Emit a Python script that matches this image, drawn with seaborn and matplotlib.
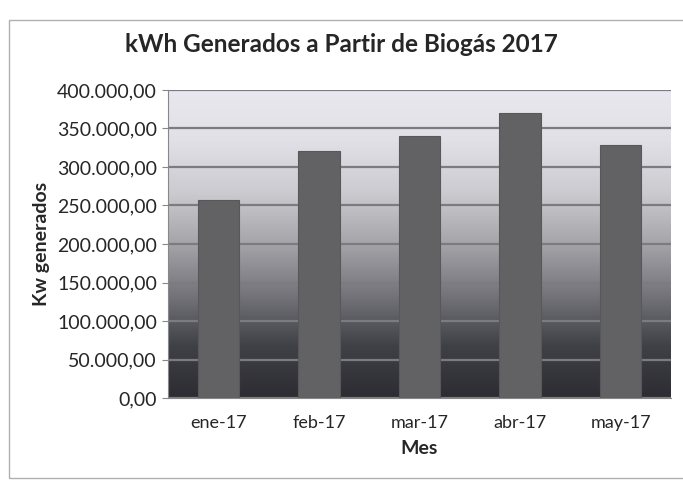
import matplotlib
matplotlib.use('Agg')
import matplotlib.pyplot as plt
import matplotlib.patches as mpatches
from matplotlib.ticker import FuncFormatter
from matplotlib.colors import LinearSegmentedColormap
import seaborn as sns
import numpy as np
import pandas as pd

sns.set_style('white')
plt.rcParams['font.family'] = ['Lato', 'DejaVu Sans']

meses = ['ene-17', 'feb-17', 'mar-17', 'abr-17', 'may-17']
kwh = [257000, 321000, 340000, 370000, 328000]
y_ticks = [0, 50000, 100000, 150000, 200000, 250000, 300000, 350000, 400000]

df = pd.DataFrame({'Mes': meses, 'kWh': kwh})


def formato_es(v, pos=None):
    s = f'{v:,.2f}'
    return s.replace(',', 'X').replace('.', ',').replace('X', '.')


fig = plt.figure(figsize=(6.83, 4.88), dpi=100)
fig.patch.set_facecolor('white')
ax = fig.add_axes([168 / 683, 1 - 398 / 488, 503 / 683, 308 / 488])

# fondo degradado del area de trazado (estilo Excel)
grad = LinearSegmentedColormap.from_list(
    'fondo', ['#2c2c32', '#404047', '#74747a', '#a4a4a9', '#cbcbd0', '#e0e0e6', '#e8e8ee'])
g = np.linspace(0, 1, 256).reshape(-1, 1)
ax.imshow(g, cmap=grad, aspect='auto', extent=[0, 1, 0, 1], origin='lower',
          transform=ax.transAxes, zorder=0)

sns.barplot(data=df, x='Mes', y='kWh', color='#626265', width=0.41,
            saturation=1, edgecolor='#58585b', linewidth=0.8, ax=ax, zorder=3)

ax.set_ylim(0, 400000)
ax.set_xlim(-0.5, 4.5)
ax.set_yticks(y_ticks)
ax.yaxis.set_major_formatter(FuncFormatter(formato_es))
ax.grid(axis='y', color='#7c7c80', linewidth=1.6, zorder=1)
ax.set_axisbelow(True)
for sp in ['top', 'right']:
    ax.spines[sp].set_visible(False)
ax.spines['left'].set_color('#888888')
ax.spines['bottom'].set_color('#888888')
ax.tick_params(axis='y', length=4, color='#888888', labelsize=14, pad=4, left=True)
ax.tick_params(axis='x', length=0, labelsize=13, pad=12)

ax.set_xlabel('Mes', fontsize=14, fontweight='bold', labelpad=7)
ax.set_ylabel('Kw generados', fontsize=14, fontweight='bold', labelpad=5)
fig.text(0.5, 1 - 45 / 488, 'kWh Generados a Partir de Biogás 2017',
         ha='center', va='center', fontsize=17.5, fontweight='bold')

# borde del grafico
fig.patches.append(mpatches.Rectangle((9 / 683, 10 / 488), 680 / 683, 458 / 488,
                                      transform=fig.transFigure, fill=False,
                                      edgecolor='#b0b0b0', linewidth=1))

fig.savefig('out.png', dpi=100)
